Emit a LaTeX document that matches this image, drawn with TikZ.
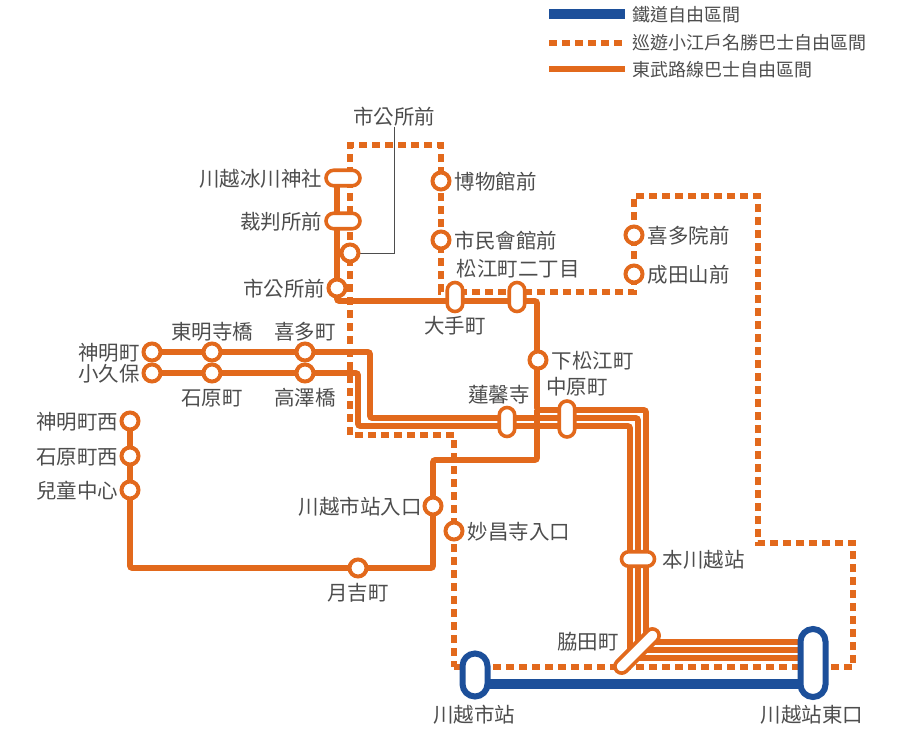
\documentclass[tikz,border=0pt]{standalone}
\usepackage{fontspec}
\setmainfont{Noto Sans CJK TC}
\usetikzlibrary{positioning, shapes.misc, backgrounds}
\definecolor{busorange}{HTML}{E2691C}
\definecolor{railblue}{HTML}{1C4F9A}
\definecolor{labelgray}{HTML}{4D4D4D}
\tikzset{
    stop/.style={
        circle,
        draw=busorange,
        fill=white,
        line width=4pt,
        minimum size=17pt,
        inner sep=0pt
    },
    pill/.style={
        rounded rectangle,
        draw=busorange,
        fill=white,
        line width=3.6pt,
        minimum height=15.5pt,
        minimum width=29pt,
        inner sep=0pt
    },
    terminal/.style={
        rounded rectangle,
        rotate=90,
        draw=railblue,
        fill=white,
        line width=6pt,
        minimum height=25pt,
        inner sep=0pt
    },
    stationname/.style={font=\fontsize{20.5pt}{22pt}\selectfont, text=labelgray, inner sep=0pt, yshift=-1pt},
    legendname/.style={font=\fontsize{18pt}{20pt}\selectfont, text=labelgray, inner xsep=7pt, inner ysep=0pt, anchor=west},
    busline/.style={draw=busorange, line width=5.6pt, rounded corners=2pt},
    shuttleline/.style={draw=busorange, line width=6pt, dash pattern=on 8pt off 5pt},
    railline/.style={draw=railblue, line width=9.5pt},
    leader/.style={draw=labelgray, line width=1pt}
}
\begin{document}
\begin{tikzpicture}[x=1pt, y=-1pt]
\useasboundingbox (0,0) rectangle (921,733);

% legend
\coordinate (legrail) at (549,14);
\coordinate (legshuttle) at (549,43);
\coordinate (legbus) at (549,69);
\node[legendname] (legrailname) at (625,15) {鐵道自由區間};
\node[legendname] (legshuttlename) at (625,43) {巡遊小江戶名勝巴士自由區間};
\node[legendname] (legbusname) at (625,70) {東武路線巴士自由區間};
\draw[railline] (legrail) -- (legrail -| legrailname.west);
\draw[shuttleline] (legshuttle) -- (legshuttle -| legshuttlename.west);
\draw[busline] (legbus) -- (legbus -| legbusname.west);

% stations
\node[pill, minimum width=34pt] (hikawa) at (343,178) {};
\node[pill, minimum width=34pt] (saiban) at (343,221) {};
\node[stop] (shiyakusho) at (337,288) {};
\node[stop] (shiyakusholoop) at (350,253) {};
\node[stop] (hakubutsukan) at (441,181) {};
\node[stop] (shimin) at (441,240) {};
\node[pill, rotate=90] (otemachi) at (455,297) {};
\node[pill, rotate=90] (matsue) at (517,297) {};
\node[stop] (kitain) at (634,235) {};
\node[stop] (naritasan) at (634,274) {};
\node[stop] (shimomatsue) at (538,360) {};
\node[pill, rotate=90, minimum width=36pt] (nakahara) at (567,419) {};
\node[pill, rotate=90] (renkeiji) at (507,422) {};
\node[stop] (shinmei) at (152,352) {};
\node[stop] (tomyoji) at (212,352) {};
\node[stop] (kitamachi) at (305,352) {};
\node[stop] (kokubo) at (152,373) {};
\node[stop] (ishihara) at (212,373) {};
\node[stop] (takazawa) at (305,373) {};
\node[stop] (shinmeinishi) at (130,421) {};
\node[stop] (ishiharanishi) at (130,456) {};
\node[stop] (jido) at (130,490) {};
\node[stop] (tsukiyoshi) at (358,568) {};
\node[stop] (shieki) at (433,506) {};
\node[stop] (myoshoji) at (454,531) {};
\node[pill, minimum width=33pt, minimum height=14.5pt] (honkawagoe) at (638,559) {};
\node[pill, rotate=45, minimum width=57pt, minimum height=13.5pt] (wakita) at (637,651) {};
\node[terminal, minimum width=43pt] (kawagoeshi) at (475,675) {};
\node[terminal, minimum width=68pt] (kawagoe) at (813,663) {};

% station names
\node[stationname, left=2pt of hikawa] (hikawaname) {川越冰川神社};
\node[stationname, left=2pt of saiban] (saibanname) {裁判所前};
\node[stationname, left=1pt of shiyakusho] (shiyakushoname) {市公所前};
\node[stationname] (shiyakusholoopname) at (394,116) {市公所前};
\node[stationname, right=3pt of hakubutsukan] (hakubutsukanname) {博物館前};
\node[stationname, right=3pt of shimin] (shiminname) {市民會館前};
\node[stationname] (otemachiname) at (455,325) {大手町};
\node[stationname] (matsuename) at (518,268) {松江町二丁目};
\node[stationname, right=3pt of kitain] (kitainname) {喜多院前};
\node[stationname, right=3pt of naritasan] (naritasanname) {成田山前};
\node[stationname, right=3pt of shimomatsue] (shimomatsuename) {下松江町};
\node[stationname] (nakaharaname) at (577,386) {中原町};
\node[stationname] (renkeijiname) at (499,394) {蓮馨寺};
\node[stationname, left=1.5pt of shinmei] (shinmeiname) {神明町};
\node[stationname, left=1.5pt of kokubo] (kokuboname) {小久保};
\node[stationname] (tomyojiname) at (212,331) {東明寺橋};
\node[stationname] (kitamachiname) at (305,331) {喜多町};
\node[stationname] (ishiharaname) at (212,397) {石原町};
\node[stationname] (takazawaname) at (305,397) {高澤橋};
\node[stationname, left=1pt of shinmeinishi] (shinmeinishiname) {神明町西};
\node[stationname, left=1pt of ishiharanishi] (ishiharanishiname) {石原町西};
\node[stationname, left=1pt of jido] (jidoname) {兒童中心};
\node[stationname] (tsukiyoshiname) at (358,592) {月吉町};
\node[stationname, left=0.5pt of shieki] (shiekiname) {川越市站入口};
\node[stationname, right=3pt of myoshoji] (myoshojiname) {妙昌寺入口};
\node[stationname, right=6pt of honkawagoe] (honkawagoename) {本川越站};
\node[stationname] (wakitaname) at (588,641) {脇田町};
\node[stationname] (kawagoeshiname) at (474,714) {川越市站};
\node[stationname] (kawagoename) at (812,714) {川越站東口};

% corners of the lines
\coordinate (a1) at (370,352);
\coordinate (a2) at (370,418);
\coordinate (a3) at (638,418);
\coordinate (a4) at (638,650);
\coordinate (b1) at (358,373);
\coordinate (b2) at (358,426);
\coordinate (b3) at (630,426);
\coordinate (b4) at (630,658);
\coordinate (c1) at (337,178);
\coordinate (c2) at (337,301);
\coordinate (c3) at (537,301);
\coordinate (c4) at (537,410);
\coordinate (c5) at (646,410);
\coordinate (c6) at (646,642);
\coordinate (d1) at (537,460);
\coordinate (d2) at (433,460);
\coordinate (d3) at (433,568);
\coordinate (d4) at (130,568);
\coordinate (s1) at (454,667);
\coordinate (s2) at (853,667);
\coordinate (s3) at (853,543);
\coordinate (s4) at (758,543);
\coordinate (s5) at (758,196);
\coordinate (s6) at (634,196);
\coordinate (s7) at (634,292);
\coordinate (s8) at (441,292);
\coordinate (s9) at (441,145);
\coordinate (s10) at (350,145);
\coordinate (s11) at (350,435);
\coordinate (s12) at (454,435);

\begin{scope}[on background layer]
\draw[shuttleline] (s1) -- (s2) -- (s3) -- (s4) -- (s5) -- (s6) -- (s7) -- (s8) -- (s9) -- (s10) -- (s11) -- (s12) -- cycle;
\draw[busline] (shinmei.center) -- (tomyoji.center) -- (kitamachi.center) -- (a1) -- (a2) -- (a3) -- (a4) -- (a4 -| kawagoe.center);
\draw[busline] (kokubo.center) -- (ishihara.center) -- (takazawa.center) -- (b1) -- (b2) -- (b3) -- (b4) -- (b4 -| kawagoe.center);
\draw[busline] (c1) -- (c2) -- (c3) -- (c4) -- (c5) -- (c6) -- (c6 -| kawagoe.center);
\draw[busline] (c4) -- (d1) -- (d2) -- (d3) -- (d4) -- (shinmeinishi.center);
\draw[railline] (kawagoeshi.center |- 0,684) -- (kawagoe.center |- 0,684);
\draw[leader] (shiyakusholoopname.south) |- (shiyakusholoop.center);
\end{scope}
\end{tikzpicture}
\end{document}
